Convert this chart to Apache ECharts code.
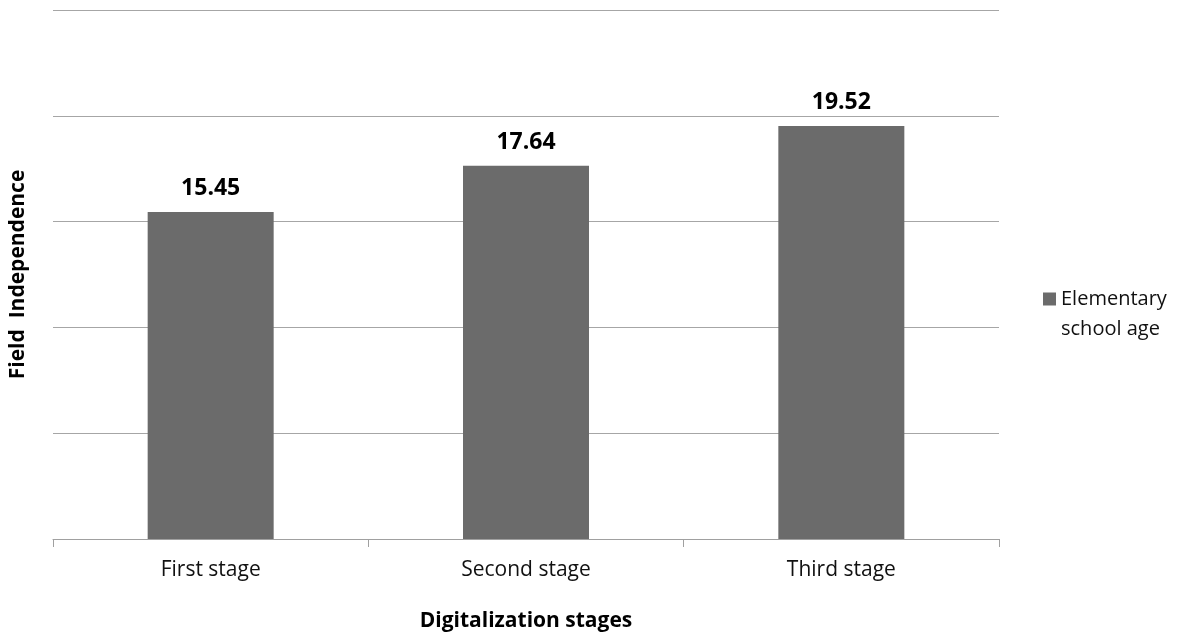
<!DOCTYPE html>
<html>
<head>
<meta charset="utf-8">
<script src="https://cdn.jsdelivr.net/npm/echarts@6/dist/echarts.min.js"></script>
<style>
  html, body { margin: 0; padding: 0; background: #fff; }
  #chart { width: 1183px; height: 638px; }
</style>
</head>
<body>
<div id="chart"></div>
<script>
// Field independence scores by digitalization stage
const categories = ['First stage', 'Second stage', 'Third stage'];
const seriesName = 'Elementary\nschool age';
const values = [15.45, 17.64, 19.52];

const FONT = "'Open Sans', 'Noto Sans', sans-serif";

const chart = echarts.init(document.getElementById('chart'));
chart.setOption({
  animation: false,
  backgroundColor: '#ffffff',
  textStyle: { fontFamily: FONT },
  grid: { left: 52, right: 184, top: 10, bottom: 99, containLabel: false },
  legend: {
    left: 1043, top: 254,
    padding: 0,
    itemWidth: 13, itemHeight: 13, itemGap: 6,
    icon: 'rect',
    // a blank leading line keeps the swatch level with the first line of the label
    formatter: name => ' \n' + name,
    textStyle: { fontFamily: FONT, fontSize: 20, color: '#111111', lineHeight: 30 },
    data: [seriesName]
  },
  xAxis: {
    type: 'category',
    data: categories,
    name: 'Digitalization stages',
    nameLocation: 'middle',
    nameGap: 72,
    nameTextStyle: { fontFamily: FONT, fontSize: 21, fontWeight: 'bold', color: '#000000' },
    axisLine: { lineStyle: { color: '#a0a0a0', width: 1 } },
    axisTick: { show: true, length: 8, alignWithLabel: false, lineStyle: { color: '#a0a0a0' } },
    axisLabel: { margin: 21, fontFamily: FONT, fontSize: 21, color: '#111111' }
  },
  yAxis: {
    type: 'value',
    min: 0, max: 25, interval: 5,
    name: 'Field  Independence',
    nameLocation: 'middle',
    nameGap: 24,
    nameTextStyle: { fontFamily: FONT, fontSize: 21, fontWeight: 'bold', color: '#000000' },
    axisLine: { show: false },
    axisTick: { show: false },
    axisLabel: { show: false },
    splitLine: { lineStyle: { color: '#a6a6a6', width: 1 } }
  },
  series: [{
    name: seriesName,
    type: 'bar',
    data: values,
    barWidth: 126,
    itemStyle: { color: '#6b6b6b' },
    label: {
      show: true, position: 'top', distance: 12,
      fontFamily: FONT, fontSize: 23, fontWeight: 'bold', color: '#000000',
      formatter: p => p.value.toFixed(2)
    }
  }]
});
</script>
</body>
</html>
